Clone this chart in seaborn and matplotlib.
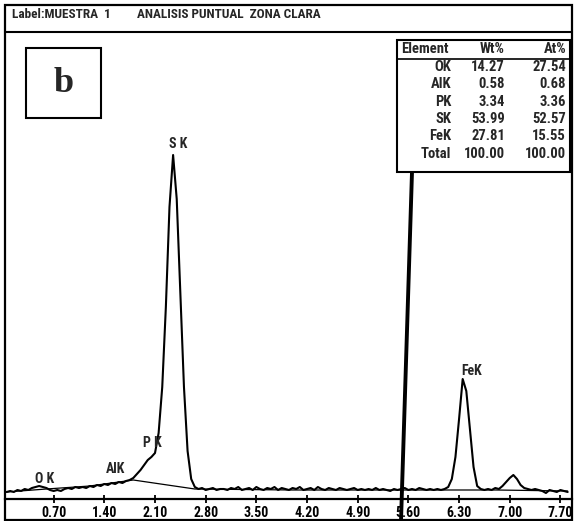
import numpy as np
import pandas as pd
import matplotlib
matplotlib.use("Agg")
import matplotlib.pyplot as plt
from matplotlib import font_manager
from matplotlib.patches import Rectangle
from matplotlib.lines import Line2D
import seaborn as sns

# ---- EDS spectrum: counts per 0.05 keV channel (0.05 ... 7.80 keV) ----
energy = np.round(np.arange(0.05, 7.801, 0.05), 2)
counts = [
    7, 8, 7, 9, 8, 10, 9, 11, 12, 13, 12, 11, 9, 8, 9, 8, 10, 11, 10, 12,          # 0.05-1.00
    11, 12, 11, 13, 12, 14, 13, 15, 14, 16, 15, 17, 16, 18, 19, 21, 25, 29, 34, 39,  # 1.05-2.00
    42, 46, 66, 112, 192, 292, 344, 300, 205, 112, 48, 20, 12, 10, 11, 9, 10, 11, 9, 10,  # 2.05-3.00
    10, 9, 11, 10, 12, 9, 10, 11, 9, 12, 10, 9, 11, 10, 12, 9, 11, 10, 9, 11,      # 3.05-4.00
    10, 12, 9, 10, 11, 9, 12, 10, 9, 11, 10, 9, 11, 10, 9, 10, 11, 9, 10, 9,       # 4.05-5.00
    10, 9, 11, 9, 10, 9, 8, 10, 9, 10, 11, 9, 10, 9, 11, 10, 9, 10, 9, 10,         # 5.05-6.00
    9, 10, 12, 20, 42, 80, 120, 108, 70, 32, 13, 10, 9, 10, 9, 11, 10, 13, 17, 21,  # 6.05-7.00
    24, 20, 14, 11, 10, 9, 10, 9, 8, 6, 9, 8, 7, 9, 8, 7,                          # 7.05-7.80
]

# fitted continuum under the peaks
bg_energy = [0.05, 0.60, 1.20, 1.80, 2.65, 4.00, 6.00, 6.80, 7.80]
bg_counts = [7, 10, 13, 19, 10, 9, 9, 9, 8]

# peak identification labels
peak_names = ["O K", "AlK", "P K", "S K", "FeK"]
peak_label_energy = [0.57, 1.55, 2.07, 2.42, 6.47]
peak_label_counts = [20, 30, 56, 355, 128]

# quantification table
elements = ["OK", "AlK", "PK", "SK", "FeK", "Total"]
wt_pct = ["14.27", "0.58", "3.34", "53.99", "27.81", "100.00"]
at_pct = ["27.54", "0.68", "3.36", "52.57", "15.55", "100.00"]

tick_values = [0.70, 1.40, 2.10, 2.80, 3.50, 4.20, 4.90, 5.60, 6.30, 7.00, 7.70]
tick_labels = ["0.70", "1.40", "2.10", "2.80", "3.50", "4.20", "4.90", "5.60", "6.30", "7.00", "7.70"]

title_left = "Label:MUESTRA  1"
title_right = "ANALISIS PUNTUAL  ZONA CLARA"
panel_letter = "b"

sns.set_theme(style="white")
available = {f.name for f in font_manager.fontManager.ttflist}
narrow = next((f for f in ["Liberation Sans Narrow", "Roboto Condensed", "Open Sans Condensed",
                           "Liberation Sans"] if f in available), "DejaVu Sans")
plt.rcParams["font.family"] = [narrow, "DejaVu Sans"]

W, H = 574, 521
fig = plt.figure(figsize=(W / 100, H / 100), dpi=100)
fig.patch.set_facecolor("white")


def fx(x):
    return x / W


def fy(y):
    return 1 - y / H


# spectrum axes
ax = fig.add_axes([fx(5), fy(499), fx(572) - fx(5), fy(32) - fy(499)])
df = pd.DataFrame({"energy": energy, "counts": counts})
bg = pd.DataFrame({"energy": bg_energy, "counts": bg_counts})
sns.lineplot(data=bg, x="energy", y="counts", ax=ax, color="black", lw=0.9)
sns.lineplot(data=df, x="energy", y="counts", ax=ax, color="black", lw=1.5)
ax.set_xlim(0.028, 7.86)
ax.set_ylim(0, 467)
ax.set_facecolor("none")
for s in ["left", "top", "right"]:
    ax.spines[s].set_visible(False)
ax.spines["bottom"].set_linewidth(1.6)
ax.spines["bottom"].set_color("black")
ax.set_yticks([])
ax.set_xticks(tick_values)
ax.set_xticklabels(tick_labels, fontweight="bold", fontsize=10)
ax.tick_params(axis="x", direction="inout", length=6, width=1.3, pad=2, colors="black",
               bottom=True)
ax.set_xlabel("")
ax.set_ylabel("")

for name, e, c in zip(peak_names, peak_label_energy, peak_label_counts):
    ax.text(e, c, name, ha="center", va="center", fontsize=10, fontweight="bold")

# outer frame and title band
fig.add_artist(Rectangle((fx(5), fy(520)), fx(572) - fx(5), fy(5) - fy(520),
                         transform=fig.transFigure, fill=False, lw=1.6, ec="black"))
fig.add_artist(Line2D([fx(5), fx(572)], [fy(32), fy(32)], transform=fig.transFigure,
                      lw=1.5, color="black"))
fig.text(fx(12), fy(14), title_left, ha="left", va="center", fontsize=9.5, fontweight="bold")
fig.text(fx(137), fy(14), title_right, ha="left", va="center", fontsize=9.5, fontweight="bold")

# panel letter box
fig.add_artist(Rectangle((fx(26), fy(118)), fx(101) - fx(26), fy(48) - fy(118),
                         transform=fig.transFigure, fill=False, lw=1.5, ec="black"))
fig.text(fx(63.5), fy(84), panel_letter, ha="center", va="center", fontsize=26,
         fontweight="bold", family=["Liberation Serif", "DejaVu Serif"])

# quantification table
fig.add_artist(Rectangle((fx(397), fy(172)), fx(570) - fx(397), fy(40) - fy(172),
                         transform=fig.transFigure, fill=False, lw=1.5, ec="black"))
fig.add_artist(Line2D([fx(397), fx(570)], [fy(59), fy(59)], transform=fig.transFigure,
                      lw=1.2, color="black"))
fs_tab = 10.5
fig.text(fx(401), fy(49), "Element", ha="left", va="center", fontsize=fs_tab, fontweight="bold")
fig.text(fx(505), fy(49), "Wt%", ha="right", va="center", fontsize=fs_tab, fontweight="bold")
fig.text(fx(566), fy(49), "At%", ha="right", va="center", fontsize=fs_tab, fontweight="bold")
for i, (el, w, a) in enumerate(zip(elements, wt_pct, at_pct)):
    y = 67 + i * 17.3
    fig.text(fx(451), fy(y), el, ha="right", va="center", fontsize=fs_tab, fontweight="bold")
    fig.text(fx(505), fy(y), w, ha="right", va="center", fontsize=fs_tab, fontweight="bold")
    fig.text(fx(566), fy(y), a, ha="right", va="center", fontsize=fs_tab, fontweight="bold")

# pointer stroke from the table
fig.add_artist(Line2D([fx(412), fx(401)], [fy(172), fy(521)], transform=fig.transFigure,
                      lw=2.8, color="black", solid_capstyle="butt"))

fig.savefig("out.png", dpi=100, facecolor="white")
